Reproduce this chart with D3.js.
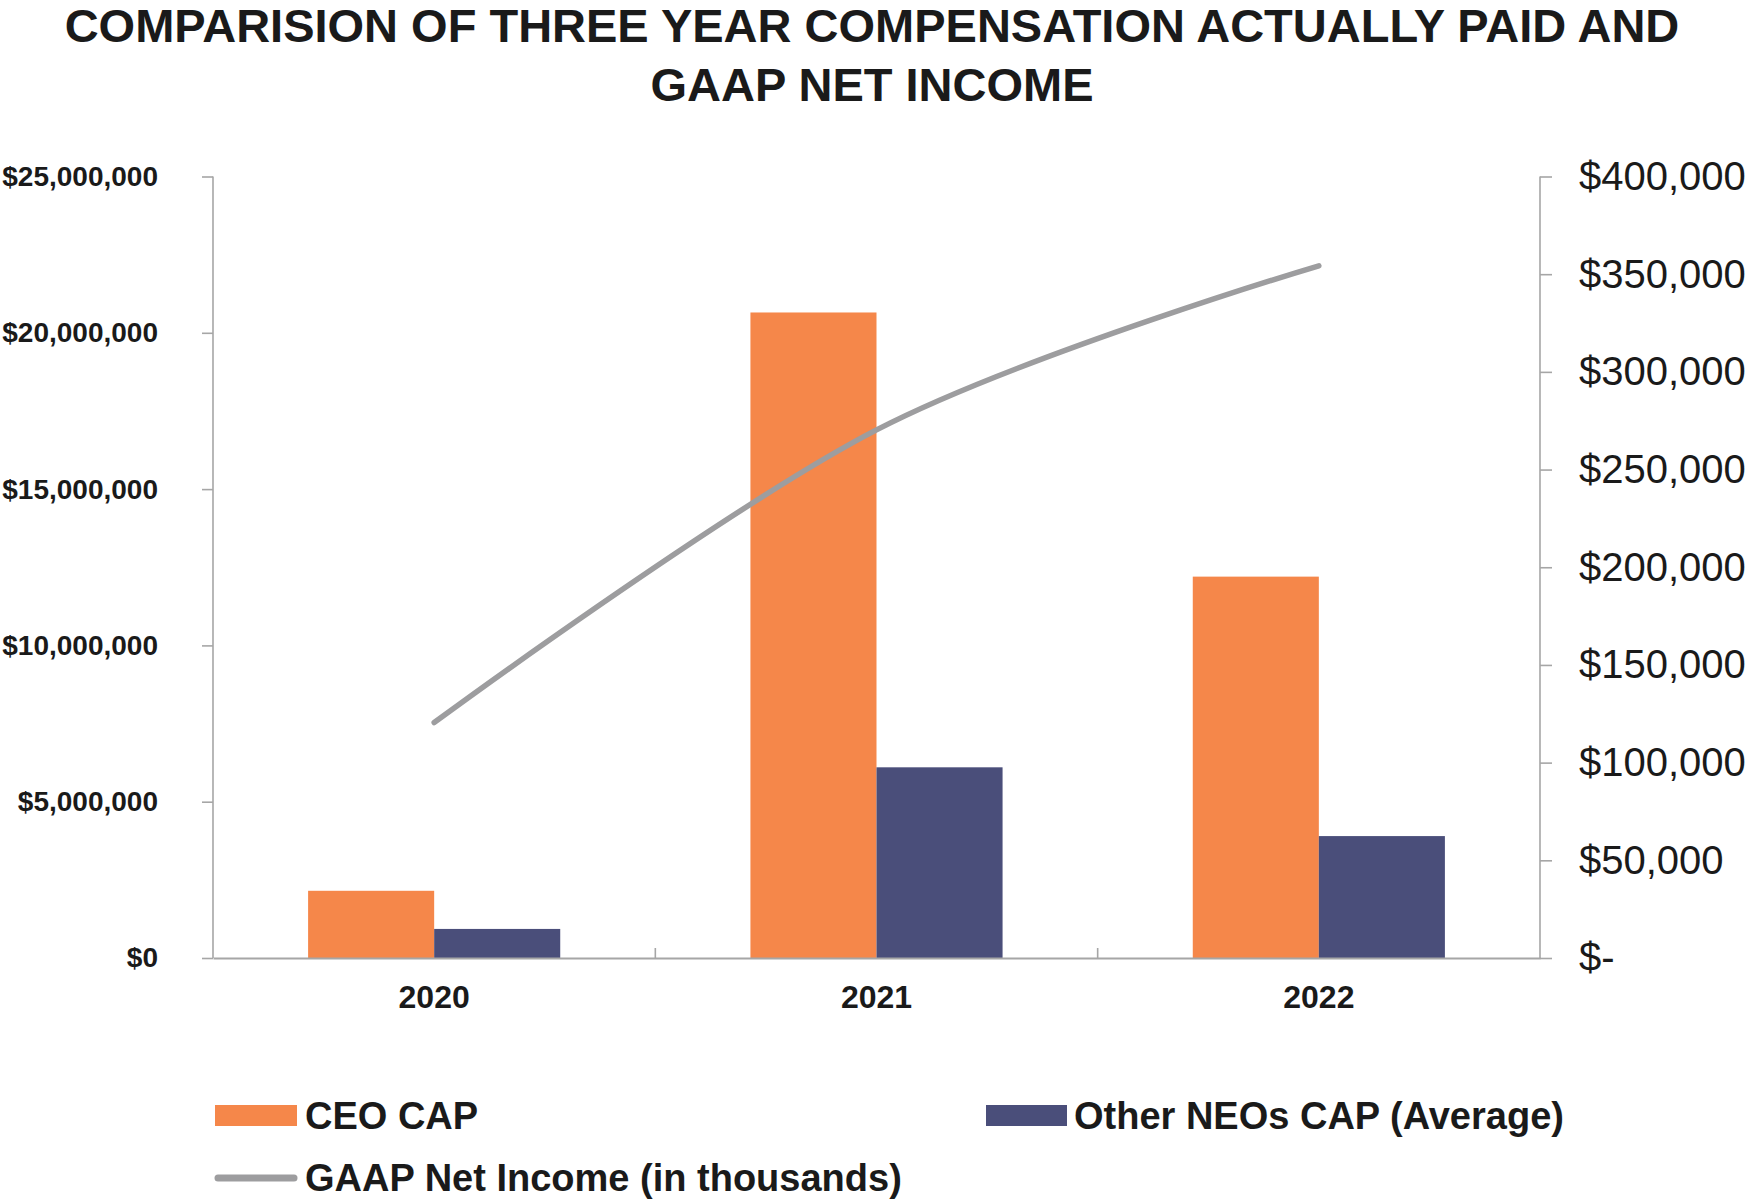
<!DOCTYPE html>
<html>
<head>
<meta charset="utf-8">
<script src="https://cdn.jsdelivr.net/npm/d3@7"></script>
<style>
  html, body { margin: 0; padding: 0; background: #ffffff; }
  svg { display: block; }
  text { font-family: "Liberation Sans", Arial, sans-serif; fill: #1a1a1a; }
</style>
</head>
<body>
<script>
// ---- Data ----
const categories = ["2020", "2021", "2022"];
const ceoCap = [2150000, 20650000, 12200000];
const neoCap = [930000, 6100000, 3900000];
const netIncome = [120500, 270300, 354300];
const leftTicks = [0, 5000000, 10000000, 15000000, 20000000, 25000000];
const rightTicks = [0, 50000, 100000, 150000, 200000, 250000, 300000, 350000, 400000];
const titleLines = ["COMPARISION OF THREE YEAR COMPENSATION ACTUALLY PAID AND", "GAAP NET INCOME"];
const seriesNames = ["CEO CAP", "Other NEOs CAP (Average)", "GAAP Net Income (in thousands)"];

const W = 1751, H = 1204;
const colors = { ceo: "#f5874a", neo: "#4a4e7a", line: "#9d9d9f", axis: "#a6a6a6" };

const svg = d3.select("body").append("svg").attr("width", W).attr("height", H);

const plot = { left: 213, right: 1540, top: 176.5, bottom: 958 };

const x = d3.scaleBand().domain(categories).range([plot.left, plot.right]).padding(0);
const yL = d3.scaleLinear().domain([0, 25000000]).range([plot.bottom, plot.top]);
const yR = d3.scaleLinear().domain([0, 400000]).range([plot.bottom, plot.top]);
const barW = x.bandwidth() * 0.285;

// Title
svg.selectAll("text.title").data(titleLines).join("text")
  .attr("class", "title")
  .attr("x", 872)
  .attr("y", (d, i) => 42 + i * 59)
  .attr("text-anchor", "middle")
  .style("font-weight", "bold")
  .style("font-size", "47px")
  .text(d => d);

// Bars
const g = svg.append("g");
categories.forEach((c, i) => {
  const cx = x(c) + x.bandwidth() / 2;
  g.append("rect").attr("x", cx - barW).attr("y", yL(ceoCap[i]))
    .attr("width", barW).attr("height", yL(0) - yL(ceoCap[i])).attr("fill", colors.ceo);
  g.append("rect").attr("x", cx).attr("y", yL(neoCap[i]))
    .attr("width", barW).attr("height", yL(0) - yL(neoCap[i])).attr("fill", colors.neo);
});

// Left axis
const axL = svg.append("g").attr("transform", `translate(${plot.left},0)`)
  .call(d3.axisLeft(yL).tickValues(leftTicks).tickSize(11).tickPadding(44)
    .tickFormat(d => "$" + d3.format(",")(d)));
axL.select(".domain").attr("stroke", colors.axis).attr("stroke-width", 1.6).attr("d", `M0,${plot.top}V${plot.bottom}`);
axL.selectAll(".tick line").attr("stroke", colors.axis).attr("stroke-width", 1.6);
axL.selectAll(".tick text").style("font-size", "28px").style("font-weight", "bold")
  .style("font-family", "'Liberation Sans', Arial, sans-serif").attr("fill", "#1a1a1a");

// Right axis
const axR = svg.append("g").attr("transform", `translate(${plot.right},0)`)
  .call(d3.axisRight(yR).tickValues(rightTicks).tickSize(12).tickPadding(27)
    .tickFormat(d => d === 0 ? "$-" : "$" + d3.format(",")(d)));
axR.select(".domain").attr("stroke", colors.axis).attr("stroke-width", 1.6).attr("d", `M0,${plot.top}V${plot.bottom}`);
axR.selectAll(".tick line").attr("stroke", colors.axis).attr("stroke-width", 1.6);
axR.selectAll(".tick text").style("font-size", "40px")
  .style("font-family", "'Liberation Sans', Arial, sans-serif").attr("fill", "#1a1a1a");

// X axis baseline
const axX = svg.append("g").attr("transform", `translate(0,${plot.bottom})`)
  .call(d3.axisBottom(x).tickSize(0).tickPadding(27));
axX.select(".domain").attr("stroke", colors.axis).attr("stroke-width", 1.8);
axX.selectAll(".tick text").style("font-size", "32px").style("font-weight", "bold")
  .style("font-family", "'Liberation Sans', Arial, sans-serif").attr("fill", "#1a1a1a");
// category separators (inside ticks)
svg.append("g").selectAll("line").data(categories.slice(1)).join("line")
  .attr("x1", d => x(d)).attr("x2", d => x(d))
  .attr("y1", plot.bottom).attr("y2", plot.bottom - 10)
  .attr("stroke", colors.axis).attr("stroke-width", 1.6);

// Line
const line = d3.line()
  .x((d, i) => x(categories[i]) + x.bandwidth() / 2)
  .y(d => yR(d))
  .curve(d3.curveCatmullRom.alpha(0));
svg.append("path").datum(netIncome).attr("d", line)
  .attr("fill", "none").attr("stroke", colors.line).attr("stroke-width", 5.5)
  .attr("stroke-linecap", "round");

// Legend
const leg = svg.append("g");
leg.append("rect").attr("x", 215).attr("y", 1105).attr("width", 82).attr("height", 21).attr("fill", colors.ceo);
leg.append("text").attr("x", 305).attr("y", 1129).style("font-size", "38px").style("font-weight", "bold").text(seriesNames[0]);
leg.append("rect").attr("x", 986).attr("y", 1105).attr("width", 81).attr("height", 21).attr("fill", colors.neo);
leg.append("text").attr("x", 1074).attr("y", 1129).style("font-size", "38px").style("font-weight", "bold").text(seriesNames[1]);
leg.append("line").attr("x1", 218).attr("x2", 294).attr("y1", 1178).attr("y2", 1178)
  .attr("stroke", colors.line).attr("stroke-width", 7).attr("stroke-linecap", "round");
leg.append("text").attr("x", 305).attr("y", 1191).style("font-size", "38px").style("font-weight", "bold").text(seriesNames[2]);
</script>
</body>
</html>
